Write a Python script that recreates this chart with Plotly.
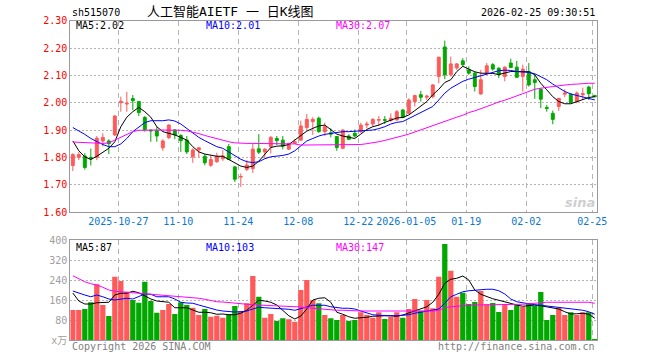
import plotly.graph_objects as go
import pandas as pd

# ---------------- data ----------------
symbol = "sh515070"
title_text = "人工智能AIETF 一 日K线图"
timestamp = "2026-02-25 09:30:51"

holidays = ["2026-01-01", "2026-01-02", "2026-02-16", "2026-02-17",
            "2026-02-18", "2026-02-19", "2026-02-20", "2026-02-23"]
dates = [d.strftime("%Y-%m-%d") for d in pd.bdate_range("2025-10-15", "2026-02-25")
         if d.strftime("%Y-%m-%d") not in holidays]

tick_dates = ["2025-10-27", "2025-11-10", "2025-11-24", "2025-12-08", "2025-12-22",
              "2026-01-05", "2026-01-19", "2026-02-02", "2026-02-25"]
tick_labels = ["2025-10-27", "11-10", "11-24", "12-08", "12-22",
               "2026-01-05", "01-19", "02-02", "02-25"]

open_ = [1.77, 1.80, 1.805, 1.80, 1.80, 1.86, 1.86, 1.882, 2.00, 1.995,
         2.015, 2.004, 1.946, 1.90, 1.897, 1.835, 1.872, 1.90, 1.88, 1.863,
         1.802, 1.827, 1.804, 1.771, 1.784, 1.795, 1.839, 1.765, 1.728, 1.756,
         1.759, 1.831, 1.82, 1.839, 1.869, 1.863, 1.83, 1.851, 1.863, 1.909,
         1.931, 1.943, 1.894, 1.89, 1.876, 1.833, 1.878, 1.888, 1.894, 1.918,
         1.922, 1.936, 1.938, 1.935, 1.937, 1.973, 1.961, 2.004, 2.029, 2.02,
         2.022, 2.096, 2.204, 2.102, 2.127, 2.153, 2.12, 2.108, 2.032, 2.108,
         2.139, 2.126, 2.096, 2.145, 2.13, 2.096, 2.114, 2.084, 2.049, 1.982,
         1.961, 1.986, 2.031, 2.031, 2.004, 2.029, 2.057, 2.026]
high = [1.815, 1.82, 1.815, 1.832, 1.878, 1.888, 1.866, 1.955, 2.022, 2.04,
        2.028, 2.006, 1.951, 1.90, 1.912, 1.866, 1.921, 1.904, 1.885, 1.878,
        1.833, 1.838, 1.812, 1.808, 1.817, 1.826, 1.849, 1.769, 1.741, 1.79,
        1.851, 1.885, 1.833, 1.878, 1.878, 1.878, 1.853, 1.866, 1.934, 1.959,
        1.947, 1.949, 1.927, 1.906, 1.878, 1.902, 1.884, 1.902, 1.927, 1.931,
        1.943, 1.951, 1.951, 1.961, 1.973, 1.977, 2.016, 2.029, 2.043, 2.029,
        2.068, 2.169, 2.227, 2.169, 2.145, 2.163, 2.133, 2.114, 2.12, 2.145,
        2.145, 2.13, 2.133, 2.161, 2.153, 2.139, 2.145, 2.104, 2.053, 1.992,
        1.971, 2.016, 2.049, 2.035, 2.041, 2.055, 2.062, 2.029]
low = [1.75, 1.79, 1.755, 1.77, 1.79, 1.84, 1.812, 1.878, 1.967, 1.967,
       1.973, 1.951, 1.894, 1.857, 1.857, 1.824, 1.867, 1.867, 1.82, 1.812,
       1.78, 1.80, 1.771, 1.765, 1.78, 1.787, 1.79, 1.71, 1.692, 1.75,
       1.743, 1.812, 1.796, 1.814, 1.845, 1.829, 1.827, 1.849, 1.861, 1.90,
       1.882, 1.89, 1.878, 1.873, 1.824, 1.83, 1.863, 1.873, 1.89, 1.906,
       1.912, 1.915, 1.922, 1.93, 1.934, 1.943, 1.959, 1.986, 2.004, 2.01,
       2.016, 2.071, 2.086, 2.096, 2.12, 2.133, 2.102, 2.041, 2.029, 2.102,
       2.117, 2.09, 2.078, 2.126, 2.09, 2.041, 2.059, 2.014, 1.98, 1.967,
       1.921, 1.97, 2.02, 1.998, 1.998, 2.01, 2.01, 2.02]
close = [1.81, 1.81, 1.763, 1.795, 1.87, 1.873, 1.85, 1.951, 2.005, 1.998,
         2.007, 1.964, 1.902, 1.897, 1.878, 1.86, 1.918, 1.882, 1.861, 1.82,
         1.827, 1.835, 1.78, 1.792, 1.804, 1.805, 1.792, 1.72, 1.73, 1.772,
         1.83, 1.819, 1.83, 1.873, 1.861, 1.841, 1.851, 1.857, 1.915, 1.939,
         1.939, 1.894, 1.912, 1.885, 1.836, 1.90, 1.866, 1.878, 1.918, 1.922,
         1.939, 1.938, 1.936, 1.943, 1.967, 1.946, 2.01, 2.026, 2.02, 2.024,
         2.065, 2.166, 2.102, 2.142, 2.142, 2.139, 2.108, 2.059, 2.084, 2.135,
         2.123, 2.102, 2.13, 2.129, 2.093, 2.123, 2.065, 2.074, 2.013, 1.979,
         1.939, 2.016, 2.035, 2.0, 2.035, 2.033, 2.033, 2.022]

ma5 = [1.860, 1.824, 1.802, 1.792, 1.804, 1.820, 1.833, 1.857, 1.912, 1.947,
       1.967, 1.983, 1.967, 1.947, 1.912, 1.894, 1.888, 1.882, 1.873, 1.863,
       1.839, 1.820, 1.812, 1.807, 1.804, 1.804, 1.792, 1.780, 1.768, 1.763,
       1.768, 1.786, 1.812, 1.836, 1.841, 1.842, 1.847, 1.863, 1.882, 1.896,
       1.906, 1.915, 1.918, 1.902, 1.885, 1.878, 1.873, 1.869, 1.885, 1.902,
       1.912, 1.918, 1.928, 1.937, 1.944, 1.946, 1.955, 1.971, 1.988, 2.004,
       2.029, 2.049, 2.074, 2.084, 2.114, 2.133, 2.123, 2.113, 2.108, 2.108,
       2.107, 2.103, 2.108, 2.114, 2.114, 2.114, 2.113, 2.102, 2.071, 2.047,
       2.022, 2.004, 1.996, 1.996, 2.004, 2.013, 2.019, 2.022]
ma10 = [1.909, 1.898, 1.884, 1.869, 1.857, 1.847, 1.839, 1.839, 1.849, 1.869,
        1.894, 1.912, 1.927, 1.934, 1.934, 1.934, 1.937, 1.933, 1.922, 1.906,
        1.888, 1.873, 1.861, 1.849, 1.839, 1.833, 1.820, 1.808, 1.793, 1.784,
        1.781, 1.784, 1.795, 1.802, 1.804, 1.807, 1.812, 1.824, 1.842, 1.860,
        1.869, 1.878, 1.884, 1.888, 1.890, 1.894, 1.894, 1.895, 1.898, 1.898,
        1.900, 1.905, 1.912, 1.922, 1.928, 1.931, 1.942, 1.951, 1.961, 1.973,
        1.986, 2.010, 2.035, 2.053, 2.065, 2.078, 2.086, 2.092, 2.098, 2.106,
        2.111, 2.117, 2.119, 2.118, 2.114, 2.112, 2.111, 2.106, 2.096, 2.084,
        2.068, 2.053, 2.041, 2.032, 2.027, 2.022, 2.016, 2.010]
ma30 = [1.856, 1.855, 1.852, 1.851, 1.851, 1.851, 1.853, 1.863, 1.873, 1.884,
        1.894, 1.899, 1.900, 1.900, 1.900, 1.900, 1.900, 1.900, 1.899, 1.897,
        1.893, 1.887, 1.880, 1.874, 1.868, 1.862, 1.857, 1.853, 1.851, 1.851,
        1.851, 1.851, 1.851, 1.851, 1.851, 1.851, 1.851, 1.849, 1.845, 1.845,
        1.845, 1.845, 1.845, 1.845, 1.845, 1.845, 1.845, 1.845, 1.847, 1.850,
        1.853, 1.857, 1.862, 1.867, 1.873, 1.879, 1.885, 1.893, 1.899, 1.907,
        1.916, 1.924, 1.933, 1.940, 1.947, 1.954, 1.964, 1.970, 1.977, 1.986,
        1.994, 2.003, 2.009, 2.018, 2.025, 2.033, 2.042, 2.049, 2.053, 2.057,
        2.059, 2.062, 2.065, 2.067, 2.068, 2.070, 2.071, 2.071]

volume = [120, 120, 124, 151, 223, 140, 96, 253, 236, 193,
          160, 149, 233, 156, 109, 120, 144, 104, 151, 140,
          129, 100, 124, 93, 97, 89, 103, 136, 116, 147,
          256, 173, 89, 104, 76, 87, 83, 73, 200, 240,
          160, 147, 100, 87, 80, 100, 76, 80, 111, 100,
          89, 111, 84, 93, 111, 89, 124, 164, 117, 160,
          127, 253, 384, 277, 173, 189, 144, 152, 196, 143,
          148, 112, 143, 120, 140, 133, 147, 137, 192, 80,
          100, 129, 100, 111, 100, 111, 111, 4]
vma5 = [188, 156, 144, 144, 149, 149, 151, 180, 187, 187,
        195, 189, 177, 164, 156, 153, 151, 129, 129, 129,
        120, 111, 111, 109, 103, 104, 101, 101, 107, 119,
        139, 159, 156, 151, 140, 120, 97, 84, 96, 124,
        160, 167, 169, 151, 111, 103, 93, 87, 88, 91,
        95, 97, 97, 97, 95, 100, 108, 116, 124, 133,
        151, 183, 227, 243, 247, 256, 240, 200, 183, 173,
        165, 159, 152, 145, 140, 135, 136, 140, 137, 133,
        129, 124, 113, 104, 105, 107, 103, 87]
vma10 = [196, 187, 180, 173, 180, 173, 164, 160, 164, 167,
         164, 173, 184, 183, 173, 173, 173, 164, 151, 148,
         147, 140, 133, 127, 120, 116, 113, 112, 113, 116,
         124, 131, 129, 128, 127, 125, 123, 119, 124, 132,
         139, 140, 139, 133, 129, 127, 127, 124, 116, 108,
         101, 99, 97, 97, 97, 99, 101, 107, 111, 116,
         119, 124, 147, 173, 183, 193, 197, 200, 203, 203,
         203, 197, 184, 164, 153, 148, 144, 141, 139, 136,
         133, 132, 129, 127, 124, 119, 113, 103]
vma30 = [257, 244, 233, 225, 220, 211, 200, 195, 193, 193,
         192, 189, 187, 184, 181, 180, 179, 177, 176, 173,
         171, 167, 163, 157, 153, 152, 149, 147, 144, 143,
         141, 140, 140, 139, 137, 136, 135, 133, 132, 129,
         127, 124, 121, 120, 119, 119, 117, 117, 116, 116,
         116, 116, 116, 116, 116, 115, 115, 115, 115, 115,
         116, 119, 129, 133, 136, 139, 139, 140, 140, 140,
         140, 140, 140, 140, 140, 143, 145, 148, 151, 151,
         151, 151, 151, 151, 151, 151, 151, 147]

price_ticks = [1.60, 1.70, 1.80, 1.90, 2.00, 2.10, 2.20, 2.30]
vol_ticks = [0, 80, 160, 240, 320, 400]
vol_tick_labels = ["x万", "80", "160", "240", "320", "400"]

# ---------------- styling ----------------
W, H = 660, 360
RED = "#ff5a5a"
GREEN = "#00a800"
MONO = "DejaVu Sans Mono, Noto Sans CJK SC, monospace"
GRID = "#b4b4b4"
BORDER = "#9a9a9a"

x = list(range(len(dates)))
tickvals = [dates.index(d) - 0.42 for d in tick_dates]
xr = [-0.42, 87.37]


def fx(p):
    return p / W


def fy(p):
    return 1 - p / H


fig = go.Figure()

fig.add_trace(go.Candlestick(
    x=x, open=open_, high=high, low=low, close=close,
    increasing=dict(line=dict(color=RED, width=1), fillcolor=RED),
    decreasing=dict(line=dict(color=GREEN, width=1), fillcolor=GREEN),
    whiskerwidth=0, hoverinfo="skip", showlegend=False,
    xaxis="x", yaxis="y"))

for ys, col in [(ma5, "#000000"), (ma10, "#0000ff"), (ma30, "#ff00ff")]:
    fig.add_trace(go.Scatter(x=x, y=ys, mode="lines", line=dict(color=col, width=1),
                             hoverinfo="skip", showlegend=False, xaxis="x", yaxis="y"))

bar_colors = [RED if c >= o else GREEN for o, c in zip(open_, close)]
fig.add_trace(go.Bar(x=x, y=volume, marker=dict(color=bar_colors, line=dict(width=0)),
                     width=0.88, hoverinfo="skip", showlegend=False,
                     xaxis="x2", yaxis="y2"))
for ys, col in [(vma5, "#000000"), (vma10, "#0000ff"), (vma30, "#ff00ff")]:
    fig.add_trace(go.Scatter(x=x, y=ys, mode="lines", line=dict(color=col, width=1),
                             hoverinfo="skip", showlegend=False, xaxis="x2", yaxis="y2"))

axis_common = dict(showline=True, mirror=True, linecolor=BORDER, linewidth=1,
                   zeroline=False, ticks="", fixedrange=True)

fig.update_layout(
    width=W, height=H, autosize=False,
    margin=dict(l=0, r=0, t=0, b=0, autoexpand=False),
    paper_bgcolor="white", plot_bgcolor="white",
    boxgap=0.3,
    hovermode=False,
    font=dict(family=MONO, size=10),
    xaxis=dict(domain=[fx(70.3), fx(597)], range=xr, anchor="y",
               tickmode="array", tickvals=tickvals, ticktext=tick_labels,
               tickfont=dict(family=MONO, size=10, color="#0a78d2"),
               showgrid=True, gridcolor=GRID, griddash="5px,4px", gridwidth=1,
               rangeslider=dict(visible=False), **axis_common),
    yaxis=dict(domain=[fy(212), fy(20.7)], range=[1.60, 2.30], anchor="x",
               tickmode="array", tickvals=price_ticks,
               ticktext=[f"{v:.2f}" for v in price_ticks],
               tickfont=dict(family=MONO, size=10, color="#ff0000"),
               showgrid=True, gridcolor=GRID, griddash="2px,2px", gridwidth=1,
               **axis_common),
    xaxis2=dict(domain=[fx(70.3), fx(597)], range=xr, anchor="y2",
                tickmode="array", tickvals=tickvals, showticklabels=False,
                showgrid=True, gridcolor=GRID, griddash="5px,4px", gridwidth=1,
                **axis_common),
    yaxis2=dict(domain=[fy(340), fy(240)], range=[0, 400], anchor="x2",
                tickmode="array", tickvals=vol_ticks, ticktext=vol_tick_labels,
                tickfont=dict(family=MONO, size=10, color="#a0a0a0"),
                showgrid=True, gridcolor=GRID, griddash="2px,2px", gridwidth=1,
                **axis_common),
)


def note(text, px, py, color="#000000", anchor="left", size=10, family=MONO):
    fig.add_annotation(text=text, x=fx(px), y=fy(py), xref="paper", yref="paper",
                       xanchor=anchor, yanchor="middle", showarrow=False,
                       font=dict(family=family, size=size, color=color))


note(symbol, 70, 13)
note(title_text, 230, 12, anchor="center", size=13)
note(timestamp, 597, 13, anchor="right")

note(f"MA5:{ma5[-1]:.2f}", 74, 26, "#000000")
note(f"MA10:{ma10[-1]:.2f}", 204, 26, "#0000ff")
note(f"MA30:{ma30[-1]:.2f}", 334, 26, "#ff00ff")

note(f"MA5:{vma5[-1]}", 74, 247, "#000000")
note(f"MA10:{vma10[-1]}", 204, 247, "#0000ff")
note(f"MA30:{vma30[-1]}", 334, 247, "#ff00ff")

note("Copyright 2026 SINA.COM", 70, 346, "#808080")
note("http://finance.sina.com.cn", 597, 346, "#808080", anchor="right")

note("<b><i>sina</i></b>", 580, 202, "#cfcfcf", anchor="center", size=13,
     family="DejaVu Sans, sans-serif")

fig.write_html("out.html",
               config={"displayModeBar": False, "staticPlot": True},
               post_script="document.body.style.margin='0';"
                           "document.body.style.overflow='hidden';")
